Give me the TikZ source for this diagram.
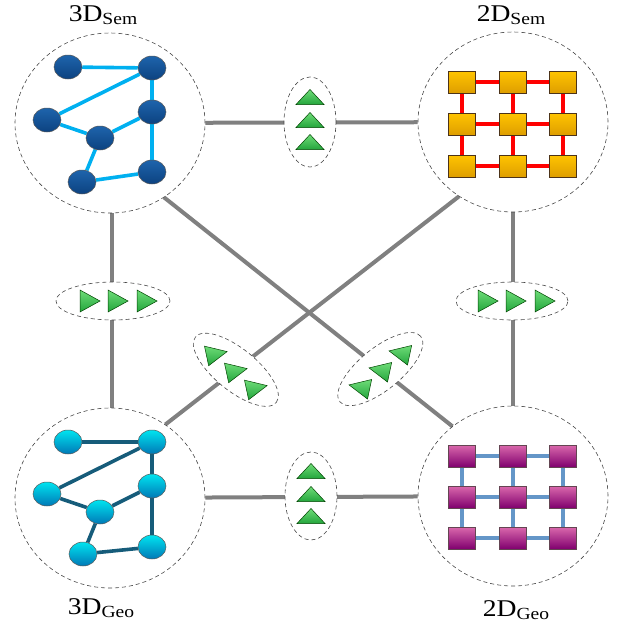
\documentclass[tikz,border=0pt]{standalone}
\usepackage{fontspec}
\setmainfont{Liberation Serif}
\usetikzlibrary{shapes.geometric,calc,backgrounds}

\definecolor{linkgray}{RGB}{128,128,128}
\definecolor{dashgray}{RGB}{70,70,70}
\definecolor{semEdge}{RGB}{0,176,240}
\definecolor{semTop}{RGB}{30,100,172}
\definecolor{semBot}{RGB}{12,66,128}
\definecolor{geoEdge}{RGB}{22,92,122}
\definecolor{geoTop}{RGB}{0,228,240}
\definecolor{geoBot}{RGB}{0,120,182}
\definecolor{goldTop}{RGB}{255,196,0}
\definecolor{goldBot}{RGB}{222,158,0}
\definecolor{gridRed}{RGB}{255,0,0}
\definecolor{magTop}{RGB}{218,104,172}
\definecolor{magBot}{RGB}{128,0,110}
\definecolor{steel}{RGB}{100,150,200}
\definecolor{triTop}{RGB}{110,220,120}
\definecolor{triBot}{RGB}{35,165,60}

\tikzset{
  group/.style={ellipse, draw=dashgray, dash pattern=on 4pt off 3pt, line width=0.6pt,
    minimum width=190pt, minimum height=180pt, inner sep=0pt},
  hub/.style={ellipse, draw=dashgray, dash pattern=on 4pt off 3pt, line width=0.6pt,
    fill=white, inner sep=0pt},
  link/.style={draw=linkgray, line width=4pt},
  ball/.style={ellipse, minimum width=28pt, minimum height=24pt, inner sep=0pt,
    draw=black!65, line width=0.5pt},
  semball/.style={ball, top color=semTop, bottom color=semBot},
  geoball/.style={ball, top color=geoTop, bottom color=geoBot},
  tile/.style={rectangle, minimum width=27pt, minimum height=22pt, inner sep=0pt,
    line width=0.6pt},
  goldtile/.style={tile, draw=black!60!brown, top color=goldTop, bottom color=goldBot},
  magtile/.style={tile, draw=black!70!magenta, top color=magTop, bottom color=magBot},
  semline/.style={draw=semEdge, line width=3.6pt},
  geoline/.style={draw=geoEdge, line width=3.6pt},
  redline/.style={draw=gridRed, line width=3.6pt},
  steelline/.style={draw=steel, line width=3.6pt},
  lab/.style={inner sep=0pt, anchor=base, xscale=1.15, font=\fontsize{24}{24}\selectfont},
  tri/.pic={\path[draw=black!55!green!60!black, line width=0.5pt, top color=triTop, bottom color=triBot]
    (1,0) -- (-1,1) -- (-1,-1) -- cycle;}
}
\newcommand{\sublab}[1]{\raisebox{-3pt}{\fontsize{17}{17}\selectfont #1}}

\begin{document}
\begin{tikzpicture}[x=1pt,y=-1pt]
\useasboundingbox (0,0) rectangle (617,622);

% the four representation groups
\node[group] (sem3) at (110,123) {};
\node[group] (sem2) at (513,122) {};
\node[group] (geo3) at (110,498) {};
\node[group] (geo2) at (513,496) {};

% titles
\node[lab] (tsem3) at (103,21) {3D\sublab{Sem}};
\node[lab] (tsem2) at (511,21) {2D\sublab{Sem}};
\node[lab] (tgeo3) at (101,614) {3D\sublab{Geo}};
\node[lab] (tgeo2) at (516,616) {2D\sublab{Geo}};

% transfer hubs on the links
\node[hub, minimum width=52pt, minimum height=90pt] (htop) at (310,122) {};
\node[hub, minimum width=52pt, minimum height=88pt] (hbot) at (311,496) {};
\node[hub, minimum width=114pt, minimum height=38pt] (hleft) at (113,301) {};
\node[hub, minimum width=112pt, minimum height=38pt] (hright) at (512,301) {};
\coordinate (a1) at (sem3.-54);
\coordinate (a2) at (geo2.131);
\coordinate (b1) at (sem2.234);
\coordinate (b2) at (geo3.53);
\node[hub, minimum width=104pt, minimum height=42pt, rotate=-39] (hdl) at ($(b1)!0.76!(b2)$) {};
\node[hub, minimum width=104pt, minimum height=42pt, rotate=39] (hdr) at ($(a1)!0.75!(a2)$) {};

% arrow triangles
\foreach \dy in {-25,-2,20} {
  \pic[rotate=90, xscale=7.5, yscale=14] at ($(htop)+(0,\dy)$) {tri};
  \pic[rotate=90, xscale=7.5, yscale=14] at ($(hbot)+(0,\dy)$) {tri};
}
\foreach \dx in {-23,5,34} {
  \pic[xscale=10, yscale=11] at ($(hleft)+(\dx,0)$) {tri};
  \pic[xscale=10, yscale=11] at ($(hright)+(\dx-1,0)$) {tri};
}
\foreach \dx/\dy in {-19/-16,1/1,21/18} {
  \pic[rotate=12, xscale=10.5, yscale=10] at ($(hdl)+(\dx,\dy)$) {tri};
  \pic[rotate=168, xscale=10.5, yscale=10] at ($(hdr)+(-\dx,\dy)$) {tri};
}

% 3D semantic graph
\node[semball] (s1) at (68,67) {};
\node[semball] (s2) at (152,68) {};
\node[semball] (s3) at (47,120) {};
\node[semball] (s4) at (152,112) {};
\node[semball] (s5) at (100,138) {};
\node[semball] (s6) at (82,182) {};
\node[semball] (s7) at (152,172) {};

% 3D geometric graph
\node[geoball] (g1) at (68,442) {};
\node[geoball] (g2) at (152,442) {};
\node[geoball] (g3) at (47,494) {};
\node[geoball] (g4) at (152,486) {};
\node[geoball] (g5) at (100,512) {};
\node[geoball] (g6) at (83,554) {};
\node[geoball] (g7) at (152,547) {};

% 2D semantic grid
\foreach \c/\x in {1/462,2/513,3/563} {
  \foreach \r/\y in {1/82,2/124,3/166} {
    \node[goldtile] (t\r\c) at (\x,\y) {};
  }
}
% 2D geometric grid
\foreach \c/\x in {1/462,2/513,3/563} {
  \foreach \r/\y in {1/456,2/497,3/538} {
    \node[magtile] (m\r\c) at (\x,\y) {};
  }
}

\begin{pgfonlayer}{background}
  % links between groups
  \draw[link] (sem3) -- (sem2);
  \draw[link] (geo3) -- (geo2);
  \draw[link] ([xshift=2pt]sem3.south) -- ([xshift=2pt]geo3.north);
  \draw[link] (sem2.south) -- (geo2.north);
  \draw[link] (a1) -- (a2);
  \draw[link] (b1) -- (b2);

  % graph edges
  \foreach \u/\v in {1/2,2/3,2/4,4/7,3/5,5/4,5/6,6/7} {
    \draw[semline] (s\u) -- (s\v);
    \draw[geoline] (g\u) -- (g\v);
  }
  % grid edges
  \foreach \r in {1,2,3} {
    \draw[redline] (t\r1) -- (t\r2) -- (t\r3);
    \draw[steelline] (m\r1) -- (m\r2) -- (m\r3);
    \draw[redline] (t1\r) -- (t2\r) -- (t3\r);
    \draw[steelline] (m1\r) -- (m2\r) -- (m3\r);
  }
\end{pgfonlayer}
\end{tikzpicture}
\end{document}
